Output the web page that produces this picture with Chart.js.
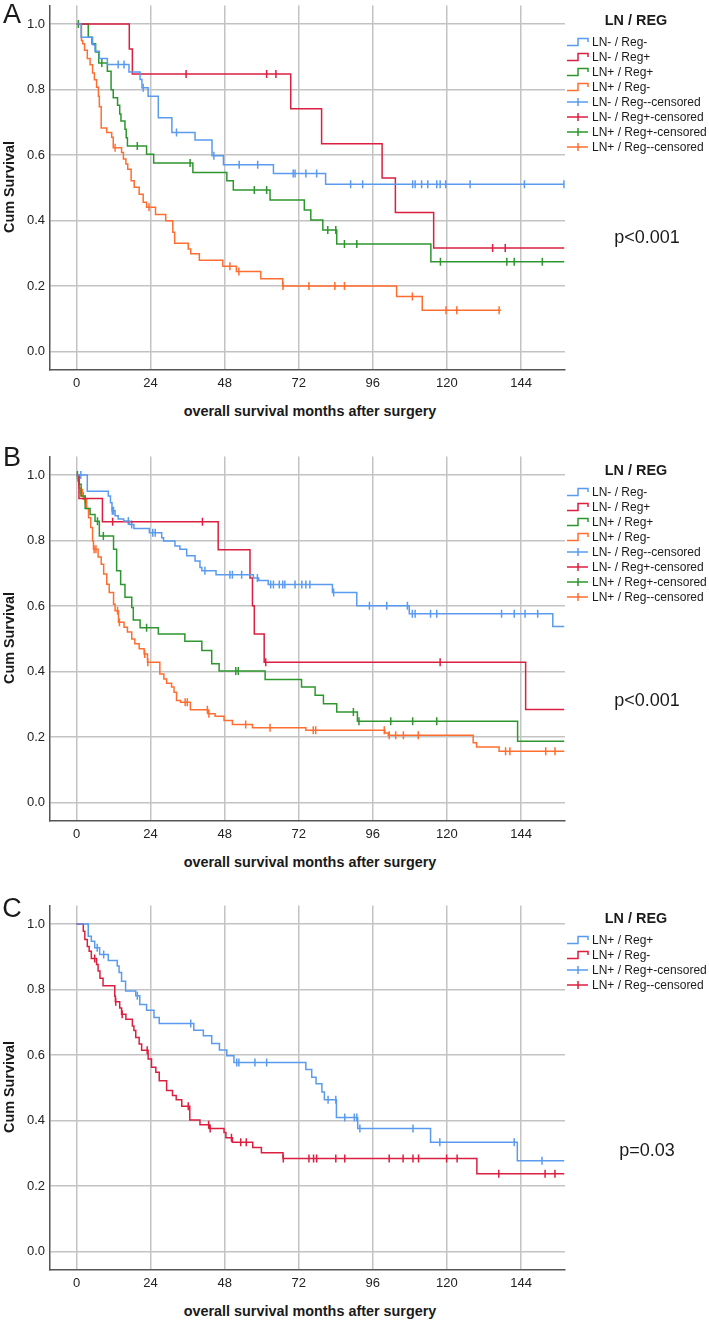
<!DOCTYPE html>
<html>
<head>
<meta charset="utf-8">
<script src="https://cdn.jsdelivr.net/npm/chart.js@4.4.1/dist/chart.umd.min.js"></script>
<style>
body { margin: 0; background: #fff; }
#page { position: relative; width: 709px; height: 1321px; font-family: "Liberation Sans", Arial, sans-serif; color: #1a1a1a; overflow: hidden; }
#page canvas { position: absolute; left: 0; }
.t { position: absolute; white-space: nowrap; line-height: 1; transform: translate(-50%, -50%); }
.letter { font-size: 27px; }
.bold { font-weight: bold; font-size: 14.4px; }
.ytitle { transform: translate(-50%, -50%) rotate(-90deg); }
.pval { font-size: 18px; }
.item { position: absolute; left: 567px; height: 14px; font-size: 12px; line-height: 14px; white-space: nowrap; }
.item svg { position: absolute; left: 0; top: 2px; }
.item span { position: absolute; left: 25px; top: 0; }
</style>
</head>
<body>
<div id="page">
  <canvas id="chartA" width="709" height="400" style="top:0px"></canvas>
  <canvas id="chartB" width="709" height="400" style="top:451px"></canvas>
  <canvas id="chartC" width="709" height="400" style="top:900px"></canvas>
</div>
<script>
// axis ticks
const xTicks = [0, 24, 48, 72, 96, 120, 144];
const yTicks = [0, 0.2, 0.4, 0.6, 0.8, 1.0];

const namesAB = ['LN- / Reg-', 'LN- / Reg+', 'LN+ / Reg+', 'LN+ / Reg-'];
const namesC = ['LN+ / Reg+', 'LN+ / Reg-'];
const pValues = ['p<0.001', 'p<0.001', 'p=0.03'];

// panel A: event times (months), survival after each step, censored times, last follow-up
const aBlueT = [0, 1.5, 5.2, 6.0, 7.4, 10.0, 17.0, 20.6, 21.2, 23.2, 26.5, 30.9, 38.4, 43.9, 47.6, 63.8, 80.7];
const aBlueS = [1, 0.96, 0.937, 0.917, 0.895, 0.877, 0.854, 0.831, 0.806, 0.780, 0.714, 0.669, 0.646, 0.598, 0.571, 0.544, 0.511];
const aBlueC = [13.5, 15.4, 21.6, 32.4, 44.5, 52.7, 58.7, 70.2, 70.8, 74.3, 77.8, 88.8, 92.7, 108.9, 109.7, 111.8, 113.8, 116.7, 117.8, 119.6, 127.5, 145.1, 157.9];
const aBlueEnd = 158;

const aRedT = [0, 17.1, 18.1, 69.4, 79.4, 99.0, 103.3, 115.7];
const aRedS = [1, 0.924, 0.848, 0.742, 0.635, 0.530, 0.425, 0.317];
const aRedC = [35.5, 61.6, 64.6, 134.8, 138.9];
const aRedEnd = 158;

const aGreenT = [0, 3.8, 5.0, 6.2, 7.2, 10.0, 11.2, 11.9, 13.3, 14.0, 14.4, 15.7, 16.1, 16.5, 22.7, 25.0, 37.7, 48.7, 50.8, 62.7, 73.8, 75.9, 79.8, 84.3, 114.8];
const aGreenS = [1, 0.96, 0.94, 0.915, 0.881, 0.856, 0.80, 0.775, 0.752, 0.726, 0.704, 0.679, 0.653, 0.628, 0.603, 0.576, 0.547, 0.522, 0.494, 0.463, 0.433, 0.402, 0.372, 0.329, 0.275];
const aGreenC = [0.6, 8.2, 19.7, 36.8, 57.6, 61.6, 81.4, 84.0, 86.8, 90.8, 117.9, 139.4, 141.8, 150.9];
const aGreenEnd = 158;

const aOrangeT = [0, 1.6, 2.0, 2.6, 3.5, 4.4, 5.2, 5.8, 6.5, 7.1, 7.4, 8.0, 9.8, 11.4, 11.9, 14.6, 15.2, 16.0, 16.6, 17.7, 18.7, 20.3, 21.6, 22.7, 25.6, 28.9, 31.2, 31.8, 36.2, 37.0, 39.8, 47.4, 51.8, 59.7, 66.8, 103.7, 112.0];
const aOrangeS = [1, 0.95, 0.94, 0.92, 0.895, 0.876, 0.851, 0.830, 0.807, 0.78, 0.748, 0.683, 0.669, 0.655, 0.623, 0.608, 0.588, 0.573, 0.557, 0.522, 0.502, 0.481, 0.456, 0.441, 0.419, 0.400, 0.365, 0.331, 0.314, 0.299, 0.279, 0.261, 0.245, 0.223, 0.2006, 0.169, 0.127];
const aOrangeC = [12.5, 23.5, 49.7, 52.6, 66.9, 75.3, 83.7, 86.8, 108.8, 119.7, 123.2, 136.9];
const aOrangeEnd = 137.5;

// panel B
const bBlueT = [0, 3.5, 10.3, 11.0, 11.5, 12.5, 13.5, 15.3, 17.2, 18.6, 23.6, 27.6, 28.2, 31.9, 33.5, 35.7, 38.4, 40.0, 40.6, 45.2, 57.3, 59.0, 62.1, 82.9, 90.8, 107.8, 154.3];
const bBlueS = [1, 0.951, 0.936, 0.916, 0.891, 0.876, 0.866, 0.86, 0.849, 0.837, 0.824, 0.809, 0.799, 0.784, 0.774, 0.754, 0.738, 0.718, 0.708, 0.696, 0.686, 0.678, 0.666, 0.642, 0.601, 0.577, 0.538];
const bBlueC = [1.4, 11.6, 12.0, 16.8, 17.9, 24.7, 25.5, 41.6, 49.7, 50.5, 53.5, 58.6, 62.9, 63.8, 65.7, 66.8, 67.5, 70.8, 73.0, 74.3, 75.6, 83.3, 94.9, 100.5, 107.2, 108.8, 109.7, 114.7, 116.7, 137.7, 141.8, 145.3, 149.4];
const bBlueEnd = 158;

const bRedT = [0, 0.8, 8.4, 45.9, 56.2, 57.0, 57.6, 60.8, 145.5];
const bRedS = [1, 0.929, 0.858, 0.772, 0.686, 0.601, 0.515, 0.429, 0.285];
const bRedC = [11.7, 40.8, 61.3, 117.8];
const bRedEnd = 158;

const bGreenT = [0, 0.8, 1.5, 2.8, 4.4, 6.0, 7.4, 12.0, 13.0, 14.3, 15.7, 17.9, 18.4, 20.6, 26.5, 35.1, 40.6, 43.8, 46.2, 61.1, 72.9, 77.3, 80.0, 84.3, 91.0, 142.9];
const bGreenS = [1, 0.972, 0.936, 0.898, 0.880, 0.859, 0.814, 0.774, 0.708, 0.666, 0.627, 0.596, 0.558, 0.534, 0.515, 0.493, 0.465, 0.424, 0.402, 0.376, 0.353, 0.328, 0.302, 0.277, 0.249, 0.188];
const bGreenC = [0.3, 6.8, 8.7, 22.7, 51.6, 52.4, 89.7, 91.5, 101.8, 108.9, 116.7];
const bGreenEnd = 158;

const bOrangeT = [0, 0.4, 0.8, 1.2, 2.2, 3.3, 3.9, 4.6, 5.2, 5.5, 7.0, 8.0, 8.8, 9.8, 10.6, 12.0, 12.5, 13.6, 15.4, 16.5, 17.9, 18.9, 20.3, 21.9, 23.0, 27.0, 28.3, 29.2, 30.8, 31.6, 32.4, 33.7, 36.9, 42.6, 44.9, 47.8, 50.5, 57.0, 74.3, 99.9, 101.0, 128.5, 129.6, 136.9];
const bOrangeS = [1, 0.982, 0.961, 0.946, 0.926, 0.898, 0.870, 0.840, 0.799, 0.774, 0.750, 0.728, 0.698, 0.667, 0.642, 0.606, 0.586, 0.551, 0.536, 0.521, 0.500, 0.485, 0.470, 0.454, 0.429, 0.393, 0.378, 0.365, 0.353, 0.337, 0.312, 0.307, 0.284, 0.272, 0.264, 0.251, 0.239, 0.229, 0.221, 0.213, 0.206, 0.183, 0.170, 0.157];
const bOrangeC = [1.4, 1.9, 2.8, 5.7, 6.3, 13.3, 13.9, 22.1, 23.1, 35.2, 35.9, 42.4, 42.9, 54.8, 62.7, 76.7, 77.5, 99.7, 101.3, 103.4, 105.9, 110.7, 139.0, 140.4, 152.0, 155.0];
const bOrangeEnd = 158;

// panel C
const cBlueT = [0, 3.8, 4.8, 5.9, 7.5, 10.3, 13.2, 13.8, 14.6, 15.9, 19.2, 20.5, 22.7, 25.1, 26.8, 38.0, 41.1, 43.8, 46.3, 48.7, 51.0, 74.3, 76.2, 77.6, 79.5, 80.3, 84.2, 91.1, 114.7, 142.8];
const cBlueS = [1, 0.963, 0.948, 0.928, 0.907, 0.889, 0.872, 0.852, 0.826, 0.796, 0.781, 0.755, 0.737, 0.715, 0.697, 0.676, 0.659, 0.636, 0.616, 0.598, 0.578, 0.556, 0.533, 0.513, 0.488, 0.464, 0.410, 0.376, 0.334, 0.278];
const cBlueC = [6.7, 8.8, 19.7, 37.0, 51.9, 52.6, 57.8, 61.6, 81.5, 84.0, 86.9, 90.0, 90.8, 91.8, 109.0, 117.7, 141.8, 150.8];
const cBlueEnd = 158;

const cRedT = [0, 2.2, 2.7, 3.5, 4.1, 4.8, 6.5, 7.0, 7.6, 8.6, 12.4, 12.6, 14.0, 14.6, 16.0, 18.1, 18.6, 19.2, 20.3, 21.1, 23.2, 24.3, 25.7, 26.8, 29.2, 31.1, 32.3, 34.1, 36.7, 40.0, 43.0, 47.8, 48.4, 50.5, 57.1, 59.9, 66.9, 129.7];
const cRedS = [1, 0.978, 0.953, 0.932, 0.917, 0.895, 0.877, 0.857, 0.835, 0.812, 0.78, 0.763, 0.744, 0.725, 0.710, 0.689, 0.675, 0.654, 0.634, 0.615, 0.588, 0.563, 0.548, 0.522, 0.492, 0.477, 0.464, 0.444, 0.402, 0.388, 0.376, 0.364, 0.348, 0.334, 0.318, 0.302, 0.285, 0.238];
const cRedC = [5.9, 12.7, 14.8, 22.9, 36.2, 42.8, 43.3, 50.2, 53.2, 55.0, 67.0, 75.3, 76.8, 77.8, 84.0, 86.9, 101.3, 105.8, 109.0, 110.8, 119.9, 123.3, 136.8, 151.8, 155.0];
const cRedEnd = 158;

const BLUE = '#5a9bef';
const RED = '#dc1f40';
const GREEN = '#2e962e';
const ORANGE = '#ff6e30';
const FONT = '"Liberation Sans", Arial, sans-serif';

function survAt(t, s, time) {
    let v = s[0];
    for (let i = 0; i < t.length; i++) {
        if (t[i] <= time) v = s[i];
    }
    return v;
}

function makePanel(id, series) {
    const datasets = [];
    series.forEach(sr => {
        const pts = sr.t.map((v, i) => ({ x: v, y: sr.s[i] }));
        pts.push({ x: sr.end, y: sr.s[sr.s.length - 1] });
        datasets.push({
            type: 'line', data: pts, stepped: true, fill: false,
            borderColor: sr.color, borderWidth: 1.5, pointRadius: 0
        });
    });
    series.forEach(sr => {
        datasets.push({
            type: 'scatter',
            data: sr.c.map(v => ({ x: v, y: survAt(sr.t, sr.s, v) })),
            showLine: false,
            pointStyle: 'line', pointRotation: 90, pointRadius: 4,
            pointBorderColor: sr.color, pointBorderWidth: 1.5, pointBackgroundColor: sr.color
        });
    });

    new Chart(document.getElementById(id), {
        data: { datasets: datasets },
        options: {
            responsive: false,
            animation: false,
            devicePixelRatio: 1,
            events: [],
            layout: { padding: { top: 4, right: 144, bottom: 0, left: 0 } },
            plugins: { legend: { display: false }, tooltip: { enabled: false } },
            scales: {
                x: {
                    type: 'linear', min: -8.585, max: 158.25,
                    afterBuildTicks: a => { a.ticks = xTicks.map(v => ({ value: v })); },
                    afterFit: a => { a.height = 30; a.paddingLeft = 0; a.paddingRight = 0; },
                    grid: { color: '#c3c3c3', lineWidth: 1.5, drawTicks: false },
                    border: { color: '#555', width: 1.5 },
                    ticks: { autoSkip: false, maxRotation: 0, padding: 6, color: '#222', font: { family: FONT, size: 13 } }
                },
                y: {
                    type: 'linear', min: -0.0556, max: 1.0568,
                    afterBuildTicks: a => { a.ticks = yTicks.map(v => ({ value: v })); },
                    afterFit: a => { a.width = 50; a.paddingTop = 0; a.paddingBottom = 0; },
                    grid: { color: '#c3c3c3', lineWidth: 1.5, drawTicks: false },
                    border: { color: '#555', width: 1.5 },
                    ticks: { autoSkip: false, padding: 5, color: '#222', font: { family: FONT, size: 13 },
                             callback: v => v.toFixed(1) }
                }
            }
        }
    });
}

function addText(cls, txt, x, y) {
    const d = document.createElement('div');
    d.className = 't ' + cls;
    d.textContent = txt;
    d.style.left = x + 'px';
    d.style.top = y + 'px';
    document.getElementById('page').appendChild(d);
}

function addLegend(top, names, colors) {
    addText('bold', 'LN / REG', 636, top);
    const rows = [];
    names.forEach((n, i) => rows.push({ name: n, color: colors[i], step: true }));
    names.forEach((n, i) => rows.push({ name: n + '-censored', color: colors[i], step: false }));
    rows.forEach((r, i) => {
        const d = document.createElement('div');
        d.className = 'item';
        d.style.top = (top + 21.7 + 15 * i - 7) + 'px';
        const path = r.step ? 'M0,8.5 H11 V1.5 H21 V5' : 'M0,5 H21 M11,1 V9';
        d.innerHTML = '<svg width="22" height="10"><path d="' + path + '" fill="none" stroke="' + r.color +
            '" stroke-width="1.5"/></svg><span></span>';
        d.querySelector('span').textContent = r.name;
        document.getElementById('page').appendChild(d);
    });
}

makePanel('chartA', [
    { t: aBlueT, s: aBlueS, c: aBlueC, end: aBlueEnd, color: BLUE },
    { t: aRedT, s: aRedS, c: aRedC, end: aRedEnd, color: RED },
    { t: aGreenT, s: aGreenS, c: aGreenC, end: aGreenEnd, color: GREEN },
    { t: aOrangeT, s: aOrangeS, c: aOrangeC, end: aOrangeEnd, color: ORANGE }
]);
makePanel('chartB', [
    { t: bBlueT, s: bBlueS, c: bBlueC, end: bBlueEnd, color: BLUE },
    { t: bRedT, s: bRedS, c: bRedC, end: bRedEnd, color: RED },
    { t: bGreenT, s: bGreenS, c: bGreenC, end: bGreenEnd, color: GREEN },
    { t: bOrangeT, s: bOrangeS, c: bOrangeC, end: bOrangeEnd, color: ORANGE }
]);
makePanel('chartC', [
    { t: cBlueT, s: cBlueS, c: cBlueC, end: cBlueEnd, color: BLUE },
    { t: cRedT, s: cRedS, c: cRedC, end: cRedEnd, color: RED }
]);

// panel letters, axis titles, legends, p-values
const panelTops = [0, 451, 900];
['A', 'B', 'C'].forEach((l, i) => addText('letter', l, 12, [14, 456.6, 907.5][i]));
panelTops.forEach((top, i) => {
    addText('bold ytitle', 'Cum Survival', 9, top + 187);
    addText('bold', 'overall survival months after surgery', 310, top + 411);
    addText('pval', pValues[i], 647, top + [237, 249, 250][i]);
});
addLegend(20, namesAB, [BLUE, RED, GREEN, ORANGE]);
addLegend(470, namesAB, [BLUE, RED, GREEN, ORANGE]);
addLegend(918.3, namesC, [BLUE, RED]);
</script>
</body>
</html>
